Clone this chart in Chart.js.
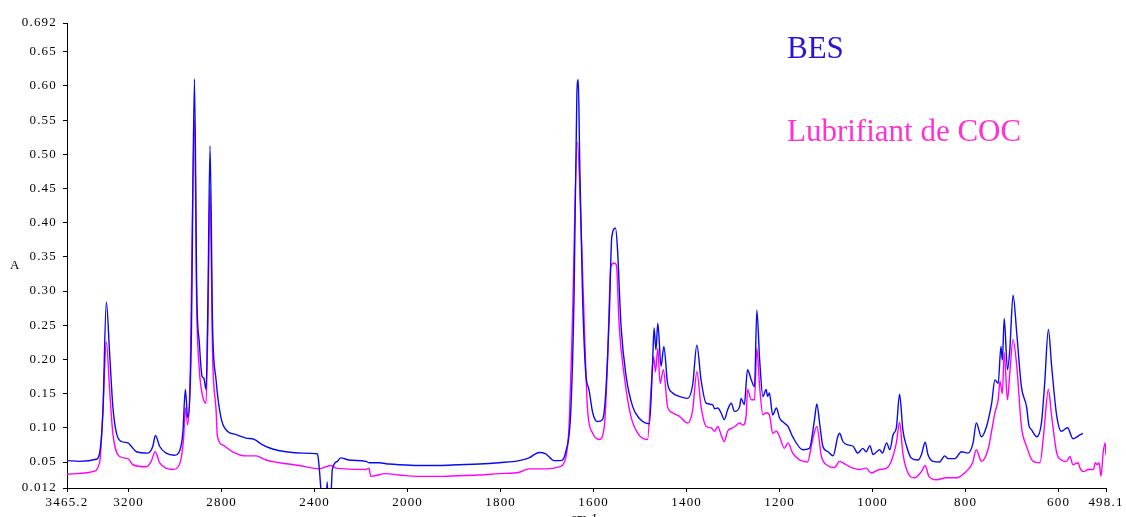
<!DOCTYPE html>
<html>
<head>
<meta charset="utf-8">
<title>Spectres IR</title>
<script src="https://cdn.jsdelivr.net/npm/chart.js@4.4.1/dist/chart.umd.min.js"></script>
<style>
    html, body { margin: 0; padding: 0; background: #fff; }
    #spectrum { display: block; }
</style>
</head>
<body>
<canvas id="spectrum" width="1126" height="517"></canvas>
<script>
// wavenumber (cm-1) and absorbance for each spectrum
const besWavenumber = [3465.2, 3411, 3339, 3325, 3311, 3296, 3282, 3268, 3253, 3232,
    3203, 3189, 3167, 3118, 3096, 3085, 3067, 3039, 3003, 2979,
    2967, 2956, 2946, 2931, 2917, 2907, 2896, 2884, 2877, 2867,
    2859, 2850, 2839, 2824, 2803, 2781, 2738, 2695, 2660, 2624,
    2581, 2524, 2452, 2388, 2381, 2373, 2364, 2351, 2346, 2342,
    2333, 2324, 2302, 2288, 2252, 2180, 2166, 2123, 2080, 2037,
    1976, 1933, 1890, 1846, 1803, 1760, 1739, 1717, 1703, 1685,
    1670, 1660, 1649, 1642, 1636, 1633, 1630, 1624, 1617, 1610,
    1602, 1592, 1581, 1574, 1566, 1561, 1553, 1549, 1541, 1530,
    1516, 1502, 1480, 1473, 1470, 1466, 1462, 1455, 1449, 1441,
    1430, 1416, 1398, 1387, 1378, 1369, 1358, 1344, 1340, 1333,
    1326, 1319, 1312, 1304, 1297, 1286, 1283, 1276, 1269, 1261,
    1254, 1249, 1243, 1236, 1229, 1226, 1222, 1215, 1207, 1200,
    1190, 1182, 1172, 1150, 1136, 1125, 1120, 1114, 1107, 1096,
    1085, 1075, 1071, 1064, 1053, 1042, 1032, 1021, 1014, 1006,
    999, 985, 979, 970, 963, 956, 949, 942, 935, 927,
    917, 902, 895, 887, 881, 870, 856, 845, 838, 823,
    809, 795, 784, 777, 766, 755, 744, 737, 730, 724,
    721, 717, 710, 705, 698, 690, 680, 669, 664, 658,
    647, 637, 630, 622, 615, 604, 594, 581, 569, 558,
    548];
const besAbsorbance = [0.052, 0.051, 0.054, 0.063, 0.122, 0.284, 0.210, 0.131, 0.093, 0.080,
    0.078, 0.073, 0.065, 0.063, 0.073, 0.089, 0.073, 0.063, 0.060, 0.068,
    0.093, 0.156, 0.115, 0.219, 0.610, 0.297, 0.224, 0.175, 0.173, 0.156,
    0.287, 0.512, 0.248, 0.170, 0.115, 0.097, 0.090, 0.085, 0.083, 0.075,
    0.069, 0.065, 0.063, 0.062, 0.044, 0.010, -0.020, -0.012, 0.021, -0.012,
    -0.020, 0.039, 0.051, 0.056, 0.053, 0.051, 0.049, 0.049, 0.047, 0.046,
    0.045, 0.045, 0.046, 0.047, 0.049, 0.052, 0.056, 0.064, 0.062, 0.052,
    0.052, 0.065, 0.126, 0.297, 0.589, 0.609, 0.491, 0.297, 0.180, 0.156,
    0.122, 0.109, 0.112, 0.151, 0.272, 0.379, 0.392, 0.365, 0.248, 0.175,
    0.131, 0.114, 0.106, 0.199, 0.246, 0.214, 0.253, 0.190, 0.219, 0.165,
    0.151, 0.146, 0.143, 0.163, 0.221, 0.170, 0.136, 0.134, 0.128, 0.129,
    0.122, 0.112, 0.126, 0.136, 0.124, 0.131, 0.143, 0.134, 0.185, 0.170,
    0.160, 0.272, 0.200, 0.146, 0.156, 0.146, 0.151, 0.119, 0.129, 0.114,
    0.107, 0.102, 0.087, 0.068, 0.070, 0.112, 0.135, 0.107, 0.073, 0.065,
    0.059, 0.087, 0.092, 0.080, 0.075, 0.073, 0.063, 0.070, 0.065, 0.074,
    0.061, 0.068, 0.063, 0.078, 0.068, 0.090, 0.100, 0.149, 0.097, 0.073,
    0.056, 0.053, 0.061, 0.079, 0.061, 0.051, 0.050, 0.059, 0.055, 0.055,
    0.065, 0.063, 0.078, 0.107, 0.087, 0.102, 0.136, 0.170, 0.165, 0.219,
    0.199, 0.260, 0.185, 0.214, 0.294, 0.238, 0.160, 0.131, 0.104, 0.097,
    0.087, 0.107, 0.165, 0.244, 0.190, 0.117, 0.095, 0.100, 0.084, 0.088,
    0.092];

const cocWavenumber = [3465.2, 3389, 3354, 3325, 3311, 3296, 3282, 3268, 3239, 3203,
    3182, 3124, 3103, 3086, 3067, 3039, 3010, 2982, 2964, 2956,
    2946, 2936, 2917, 2907, 2896, 2883, 2867, 2859, 2850, 2839,
    2824, 2818, 2796, 2753, 2695, 2652, 2609, 2552, 2467, 2381,
    2330, 2309, 2180, 2166, 2159, 2094, 2037, 1976, 1933, 1890,
    1846, 1803, 1760, 1739, 1703, 1674, 1660, 1653, 1646, 1635,
    1627, 1620, 1613, 1602, 1588, 1577, 1570, 1563, 1556, 1551,
    1545, 1534, 1520, 1505, 1484, 1477, 1471, 1467, 1462, 1457,
    1450, 1441, 1430, 1416, 1398, 1387, 1378, 1369, 1358, 1347,
    1340, 1333, 1326, 1319, 1312, 1301, 1294, 1286, 1279, 1272,
    1269, 1261, 1254, 1249, 1243, 1236, 1229, 1222, 1215, 1207,
    1200, 1190, 1182, 1172, 1157, 1140, 1129, 1120, 1110, 1097,
    1082, 1071, 1057, 1042, 1028, 1014, 1003, 985, 970, 960,
    949, 942, 935, 924, 910, 895, 887, 879, 863, 841,
    820, 802, 785, 777, 766, 752, 737, 730, 726, 721,
    717, 710, 705, 698, 690, 680, 669, 655, 640, 632,
    622, 615, 604, 594, 583, 576, 569, 558, 554, 547,
    536, 525, 521, 517, 513, 509, 504, 500, 498.1];
const cocAbsorbance = [0.032, 0.034, 0.036, 0.049, 0.122, 0.226, 0.156, 0.092, 0.058, 0.055,
    0.046, 0.043, 0.051, 0.065, 0.049, 0.041, 0.039, 0.046, 0.083, 0.129,
    0.104, 0.170, 0.550, 0.272, 0.185, 0.148, 0.136, 0.258, 0.449, 0.207,
    0.126, 0.087, 0.075, 0.065, 0.059, 0.059, 0.053, 0.049, 0.045, 0.040,
    0.045, 0.041, 0.039, 0.041, 0.029, 0.033, 0.031, 0.029, 0.029, 0.030,
    0.031, 0.033, 0.035, 0.040, 0.040, 0.043, 0.056, 0.102, 0.248, 0.518,
    0.394, 0.248, 0.126, 0.092, 0.083, 0.102, 0.199, 0.336, 0.341, 0.338,
    0.248, 0.175, 0.117, 0.092, 0.083, 0.151, 0.204, 0.182, 0.216, 0.165,
    0.185, 0.131, 0.122, 0.117, 0.107, 0.126, 0.182, 0.131, 0.102, 0.100,
    0.095, 0.102, 0.090, 0.080, 0.095, 0.100, 0.103, 0.107, 0.104, 0.117,
    0.156, 0.141, 0.141, 0.216, 0.160, 0.119, 0.122, 0.119, 0.092, 0.095,
    0.087, 0.070, 0.078, 0.063, 0.053, 0.050, 0.083, 0.102, 0.058, 0.045,
    0.042, 0.051, 0.046, 0.041, 0.039, 0.041, 0.034, 0.039, 0.041, 0.051,
    0.078, 0.108, 0.063, 0.034, 0.027, 0.036, 0.045, 0.029, 0.024, 0.027,
    0.027, 0.034, 0.049, 0.068, 0.051, 0.068, 0.122, 0.141, 0.168, 0.150,
    0.210, 0.141, 0.180, 0.229, 0.190, 0.102, 0.073, 0.051, 0.049, 0.092,
    0.156, 0.117, 0.063, 0.053, 0.051, 0.058, 0.046, 0.049, 0.041, 0.036,
    0.039, 0.039, 0.049, 0.046, 0.049, 0.029, 0.065, 0.078, 0.060];

const xTickValues = [3465.2, 3200, 2800, 2400, 2000, 1800, 1600, 1400, 1200, 1000, 800, 600, 498.1];
const yTickValues = [0.012, 0.05, 0.10, 0.15, 0.20, 0.25, 0.30, 0.35, 0.40, 0.45, 0.50, 0.55, 0.60, 0.65, 0.692];
const yTickLabels = ['0.012', '0.05', '0.10', '0.15', '0.20', '0.25', '0.30', '0.35', '0.40', '0.45', '0.50', '0.55', '0.60', '0.65', '0.692'];

const seriesNames = ['BES', 'Lubrifiant de COC'];
const seriesColors = ['#0a0af0', '#ff00ff'];
const seriesTextColors = ['#2a14dc', '#ff30d4'];

// above 2000 cm-1 the abscissa is compressed by half, like the spectrometer printout
const SPLIT = 2000;
function warp(v) { return v > SPLIT ? SPLIT + (v - SPLIT) / 2 : v; }
function unwarp(u) { return u > SPLIT ? SPLIT + (u - SPLIT) * 2 : u; }

class SplitScale extends Chart.LinearScale {
    getPixelForValue(value) {
        if (value === null || isNaN(value)) return NaN;
        const a = warp(this.min), b = warp(this.max);
        return this.getPixelForDecimal((warp(value) - a) / (b - a));
    }
    getValueForPixel(pixel) {
        const a = warp(this.min), b = warp(this.max);
        return unwarp(a + this.getDecimalForPixel(pixel) * (b - a));
    }
}
SplitScale.id = 'split';
SplitScale.defaults = Chart.LinearScale.defaults;
Chart.register(SplitScale);

const serif = "'Liberation Serif', 'Times New Roman', serif";

// wide spaced tick text, plus the free text labels
const textPlugin = {
    id: 'spectrumText',
    beforeDraw(chart) {
        chart.ctx.letterSpacing = '1.2px';
    },
    afterDraw(chart) {
        const ctx = chart.ctx;
        ctx.save();
        ctx.letterSpacing = '0px';
        ctx.textAlign = 'left';
        ctx.textBaseline = 'alphabetic';

        ctx.fillStyle = '#000';
        ctx.font = '13px ' + serif;
        ctx.fillText('A', 10, 269);
        ctx.fillText('cm-1', 571, 522);

        ctx.font = '31px ' + serif;
        ctx.fillStyle = seriesTextColors[0];
        ctx.fillText(seriesNames[0], 787, 58);
        ctx.fillStyle = seriesTextColors[1];
        ctx.fillText(seriesNames[1], 787, 141);
        ctx.restore();
    }
};

function points(xs, ys) {
    return xs.map((x, i) => ({ x: x, y: ys[i] }));
}

const axisFont = { family: serif, size: 13 };

new Chart(document.getElementById('spectrum'), {
    type: 'line',
    data: {
        datasets: [
            {
                label: seriesNames[0],
                data: points(besWavenumber, besAbsorbance),
                borderColor: seriesColors[0],
                borderWidth: 1.4,
                pointRadius: 0,
                cubicInterpolationMode: 'monotone'
            },
            {
                label: seriesNames[1],
                data: points(cocWavenumber, cocAbsorbance),
                borderColor: seriesColors[1],
                borderWidth: 1.4,
                pointRadius: 0,
                cubicInterpolationMode: 'monotone'
            }
        ]
    },
    options: {
        responsive: false,
        devicePixelRatio: 1,
        animation: false,
        layout: { padding: { left: 0, right: 20, top: 23, bottom: 0 } },
        plugins: {
            legend: { display: false },
            tooltip: { enabled: false }
        },
        scales: {
            x: {
                type: 'split',
                reverse: true,
                min: 498.1,
                max: 3465.2,
                afterBuildTicks: axis => { axis.ticks = xTickValues.map(v => ({ value: v })); },
                afterFit: axis => { axis.height = 29; },
                ticks: {
                    autoSkip: false,
                    maxRotation: 0,
                    padding: 3,
                    color: '#000',
                    font: axisFont,
                    callback: v => String(v)
                },
                grid: { drawOnChartArea: false, tickLength: 4, color: '#000' },
                border: { color: '#000', width: 1 }
            },
            y: {
                type: 'linear',
                min: 0.012,
                max: 0.692,
                afterBuildTicks: axis => { axis.ticks = yTickValues.map(v => ({ value: v })); },
                afterFit: axis => { axis.width = 67; },
                ticks: {
                    autoSkip: false,
                    padding: 6,
                    color: '#000',
                    font: axisFont,
                    callback: (v, i) => yTickLabels[i]
                },
                grid: { drawOnChartArea: false, tickLength: 4, color: '#000' },
                border: { color: '#000', width: 1 }
            }
        }
    },
    plugins: [textPlugin]
});
</script>
</body>
</html>
